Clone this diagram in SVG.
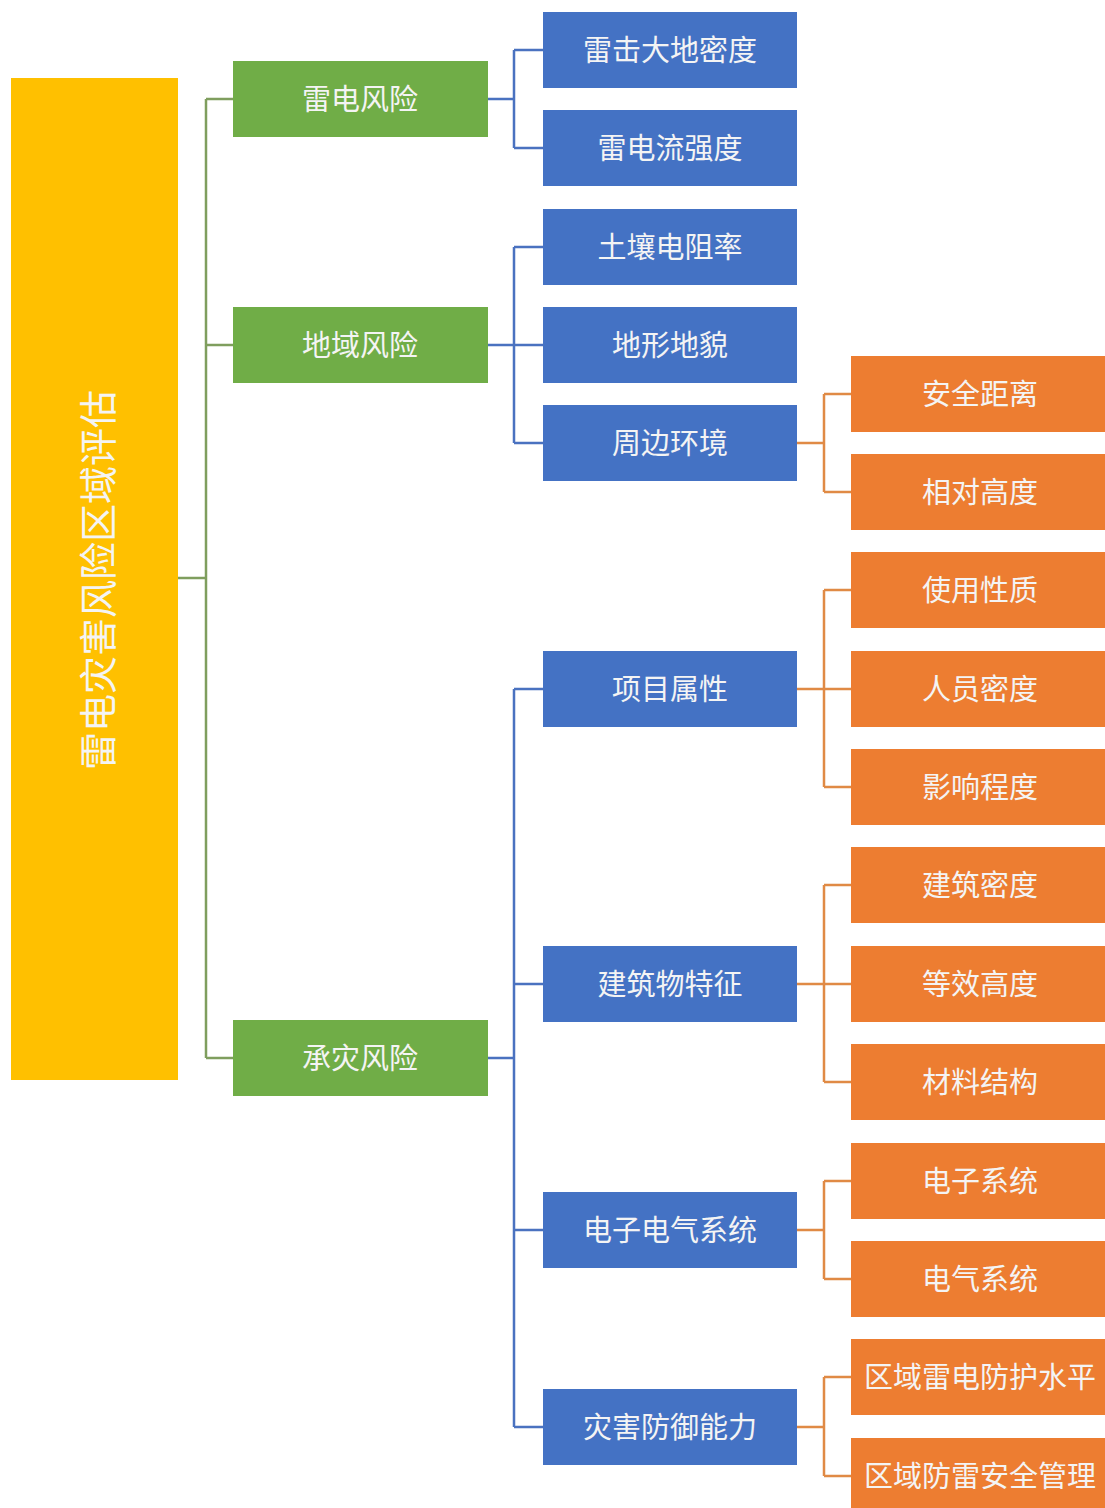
<svg xmlns="http://www.w3.org/2000/svg" width="1105" height="1508" viewBox="0 0 1105 1508">
<style>
.t{font-family:"Noto Sans CJK SC","Noto Sans",sans-serif;font-size:29px;fill:#f4f4f4;text-anchor:middle;dominant-baseline:central}
.g{fill:#70AD47}.b{fill:#4472C4}.o{fill:#ED7D31}
.lg{stroke:#7f9e5e;stroke-width:2.5;fill:none}
.lb{stroke:#4a72c0;stroke-width:2.5;fill:none}
.lo{stroke:#e08a45;stroke-width:2.5;fill:none}
</style>
<rect width="1105" height="1508" fill="#fff"/>
<g id="connectors">
<path class="lg" d="M178 578H206M206 99V1058M206 99H233M206 345H233M206 1058H233"/>
<path class="lb" d="M488 99H514M514 50V148M514 50H543M514 148H543"/>
<path class="lb" d="M488 345H543M514 247V443M514 247H543M514 443H543"/>
<path class="lb" d="M488 1058H514M514 689V1427M514 689H543M514 984H543M514 1230H543M514 1427H543"/>
<path class="lo" d="M797 443H824M824 394V492M824 394H851M824 492H851"/>
<path class="lo" d="M797 689H851M824 590V787M824 590H851M824 787H851"/>
<path class="lo" d="M797 984H851M824 885V1082M824 885H851M824 1082H851"/>
<path class="lo" d="M797 1230H824M824 1181V1279M824 1181H851M824 1279H851"/>
<path class="lo" d="M797 1427H824M824 1377V1476M824 1377H851M824 1476H851"/>
</g>
<g id="root"><rect x="11" y="78" width="167" height="1002" fill="#FFC000"/><text class="t" style="font-size:38px" transform="translate(95 580) rotate(-90)">雷电灾害风险区域评估</text></g>
<g id="n_leidian"><rect class="g" x="233" y="61" width="255" height="76"/><text class="t" x="360" y="97">雷电风险</text></g>
<g id="n_diyu"><rect class="g" x="233" y="307" width="255" height="76"/><text class="t" x="360" y="343">地域风险</text></g>
<g id="n_chengzai"><rect class="g" x="233" y="1020" width="255" height="76"/><text class="t" x="360" y="1056">承灾风险</text></g>
<g id="b1"><rect class="b" x="543" y="12" width="254" height="76"/><text class="t" x="670" y="48">雷击大地密度</text></g>
<g id="b2"><rect class="b" x="543" y="110" width="254" height="76"/><text class="t" x="670" y="146">雷电流强度</text></g>
<g id="b3"><rect class="b" x="543" y="209" width="254" height="76"/><text class="t" x="670" y="245">土壤电阻率</text></g>
<g id="b4"><rect class="b" x="543" y="307" width="254" height="76"/><text class="t" x="670" y="343">地形地貌</text></g>
<g id="b5"><rect class="b" x="543" y="405" width="254" height="76"/><text class="t" x="670" y="441">周边环境</text></g>
<g id="b6"><rect class="b" x="543" y="651" width="254" height="76"/><text class="t" x="670" y="687">项目属性</text></g>
<g id="b7"><rect class="b" x="543" y="946" width="254" height="76"/><text class="t" x="670" y="982">建筑物特征</text></g>
<g id="b8"><rect class="b" x="543" y="1192" width="254" height="76"/><text class="t" x="670" y="1228">电子电气系统</text></g>
<g id="b9"><rect class="b" x="543" y="1389" width="254" height="76"/><text class="t" x="670" y="1425">灾害防御能力</text></g>
<g id="o1"><rect class="o" x="851" y="356" width="254" height="76"/><text class="t" x="980" y="392">安全距离</text></g>
<g id="o2"><rect class="o" x="851" y="454" width="254" height="76"/><text class="t" x="980" y="490">相对高度</text></g>
<g id="o3"><rect class="o" x="851" y="552" width="254" height="76"/><text class="t" x="980" y="588">使用性质</text></g>
<g id="o4"><rect class="o" x="851" y="651" width="254" height="76"/><text class="t" x="980" y="687">人员密度</text></g>
<g id="o5"><rect class="o" x="851" y="749" width="254" height="76"/><text class="t" x="980" y="785">影响程度</text></g>
<g id="o6"><rect class="o" x="851" y="847" width="254" height="76"/><text class="t" x="980" y="883">建筑密度</text></g>
<g id="o7"><rect class="o" x="851" y="946" width="254" height="76"/><text class="t" x="980" y="982">等效高度</text></g>
<g id="o8"><rect class="o" x="851" y="1044" width="254" height="76"/><text class="t" x="980" y="1080">材料结构</text></g>
<g id="o9"><rect class="o" x="851" y="1143" width="254" height="76"/><text class="t" x="980" y="1179">电子系统</text></g>
<g id="o10"><rect class="o" x="851" y="1241" width="254" height="76"/><text class="t" x="980" y="1277">电气系统</text></g>
<g id="o11"><rect class="o" x="851" y="1339" width="254" height="76"/><text class="t" x="980" y="1375">区域雷电防护水平</text></g>
<g id="o12"><rect class="o" x="851" y="1438" width="254" height="76"/><text class="t" x="980" y="1474">区域防雷安全管理</text></g>
</svg>
